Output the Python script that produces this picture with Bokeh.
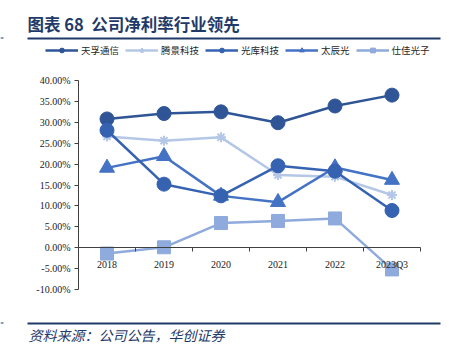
from bokeh.plotting import figure
from bokeh.models import (Range1d, LinearAxis, FixedTicker, NumeralTickFormatter,
                          Legend, LegendItem, Label, BoxAnnotation)
from bokeh.embed import file_html
from bokeh.resources import INLINE

categories = ["2018", "2019", "2020", "2021", "2022", "2023Q3"]
tianfu = [30.8, 32.1, 32.5, 29.9, 33.9, 36.5]      # 天孚通信
tengjing = [26.6, 25.6, 26.4, 17.4, 17.0, 12.6]    # 腾景科技
guangku = [28.1, 15.2, 12.4, 19.6, 18.3, 8.9]      # 光库科技
taichen = [19.1, 21.9, 12.4, 10.9, 19.2, 16.2]     # 太辰光
shijia = [-1.4, 0.1, 5.9, 6.4, 7.0, -5.2]          # 仕佳光子
y_ticks = [-10, -5, 0, 5, 10, 15, 20, 25, 30, 35, 40]

n = len(categories)
xs = [i + 0.5 for i in range(n)]
pct = lambda arr: [v / 100 for v in arr]

NAVY = "#1F3A68"
SERIF = "Liberation Serif"
CJK = "Noto Sans CJK SC"

W, H = 449, 355
FL, FR, FT, FB = 78, 420, 80, 289   # plot-area edges in page px
Y0, Y1 = y_ticks[0] / 100, y_ticks[-1] / 100

# frame covers the whole page; ranges are widened so the plot area lands at FL..FR, FT..FB
xs_per_px = n / (FR - FL)
ys_per_px = (Y1 - Y0) / (FB - FT)
x_range = Range1d(0 - FL * xs_per_px, n + (W - FR) * xs_per_px)
y_range = Range1d(Y0 - (H - FB) * ys_per_px, Y1 + FT * ys_per_px)

p = figure(width=W, height=H, x_range=x_range, y_range=y_range,
           output_backend="svg", toolbar_location=None,
           x_axis_location=None, y_axis_location=None,
           min_border=0)
p.outline_line_color = None
p.xgrid.visible = False
p.ygrid.visible = False
p.background_fill_color = "white"
p.border_fill_color = "white"

# y axis
yax = LinearAxis(ticker=FixedTicker(ticks=[t / 100 for t in y_ticks]),
                 formatter=NumeralTickFormatter(format="0.00%"),
                 fixed_location=0, bounds=(Y0, Y1))
yax.major_tick_out = 4
yax.major_tick_in = 0
yax.minor_tick_line_color = None
yax.axis_line_color = "#404040"
yax.major_tick_line_color = "#404040"
yax.major_label_text_font = SERIF
yax.major_label_text_font_size = "10px"
yax.major_label_text_color = "#222222"
yax.major_label_standoff = 4
p.add_layout(yax, "left")

# x axis at zero: ticks at category boundaries
xax_ticks = LinearAxis(ticker=FixedTicker(ticks=list(range(n + 1))), fixed_location=0,
                       bounds=(0, n))
xax_ticks.major_tick_out = 4
xax_ticks.major_tick_in = 0
xax_ticks.minor_tick_line_color = None
xax_ticks.axis_line_color = "#404040"
xax_ticks.major_tick_line_color = "#404040"
xax_ticks.major_label_text_font_size = "0px"
xax_ticks.major_label_text_alpha = 0
p.add_layout(xax_ticks, "below")

# x axis labels at category centers
xax_lab = LinearAxis(ticker=FixedTicker(ticks=xs), fixed_location=0, bounds=(0, n),
                     major_label_overrides={x: c for x, c in zip(xs, categories)})
xax_lab.major_tick_line_color = None
xax_lab.minor_tick_line_color = None
xax_lab.axis_line_color = None
xax_lab.major_label_text_font = SERIF
xax_lab.major_label_text_font_size = "10px"
xax_lab.major_label_text_color = "#222222"
xax_lab.major_label_standoff = 5
p.add_layout(xax_lab, "below")

series = [
    ("天孚通信", tianfu, "#2F5597", "circle", 14),
    ("腾景科技", tengjing, "#B4C7E7", "asterisk", 10),
    ("太辰光", taichen, "#4472C4", "triangle", 15),
    ("光库科技", guangku, "#3662B2", "circle", 14),
    ("仕佳光子", shijia, "#8FAADC", "square", 13),
]
items = {}
for name, vals, col, mk, sz in series:
    ys = pct(vals)
    l = p.line(xs, ys, line_color=col, line_width=2.5)
    s = p.scatter(xs, ys, marker=mk, size=sz, fill_color=col, line_color=col,
                  line_width=2 if mk == "asterisk" else 1)
    items[name] = [l, s]

legend_order = ["天孚通信", "腾景科技", "光库科技", "太辰光", "仕佳光子"]
legend = Legend(items=[LegendItem(label=nm, renderers=items[nm]) for nm in legend_order],
                orientation="horizontal", location=(45, H - 57),
                border_line_color=None, background_fill_alpha=0,
                padding=0, margin=0, spacing=6, glyph_width=33, glyph_height=12,
                label_standoff=3, label_text_font=CJK, label_text_font_size="9.5px",
                label_text_color="#262626", label_height=12)
p.add_layout(legend, "center")

# title, rules and footer (screen units: x from left, y from bottom)
p.add_layout(Label(x=27, y=H - 23, x_units="screen", y_units="screen",
                   text="图表 68\u00a0\u00a0公司净利率行业领先", text_font=CJK,
                   text_font_size="16.5px", text_font_style="bold", text_color=NAVY,
                   text_baseline="middle"))
for ry in (37, 322):
    p.add_layout(BoxAnnotation(left=27, right=440, top=H - ry, bottom=H - ry - 2,
                               left_units="screen", right_units="screen",
                               top_units="screen", bottom_units="screen",
                               fill_color=NAVY, fill_alpha=1, line_color=None))
    p.add_layout(BoxAnnotation(left=0, right=3, top=H - ry, bottom=H - ry - 1,
                               left_units="screen", right_units="screen",
                               top_units="screen", bottom_units="screen",
                               fill_color=NAVY, fill_alpha=1, line_color=None))
p.add_layout(Label(x=28, y=H - 334, x_units="screen", y_units="screen",
                   text="资料来源：公司公告，华创证券", text_font=CJK, text_font_size="14px",
                   text_font_style="italic", text_color=NAVY, text_baseline="middle"))

open("out.html", "w").write(file_html(p, INLINE))
